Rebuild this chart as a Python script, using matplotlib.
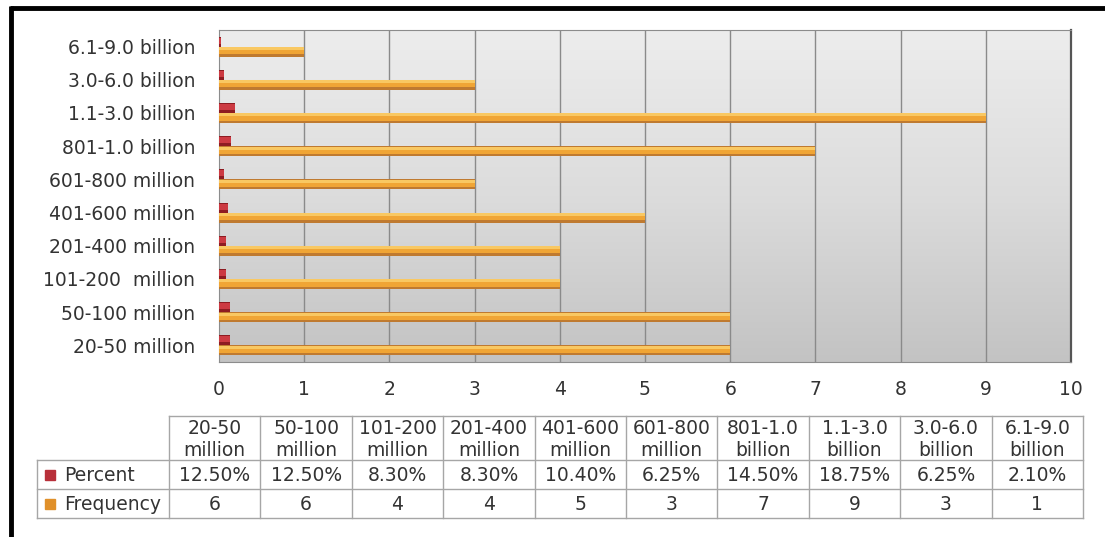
import numpy as np
import matplotlib.pyplot as plt
from matplotlib.colors import LinearSegmentedColormap
from matplotlib.patches import Rectangle

categories = ['20-50 million', '50-100 million', '101-200  million', '201-400 million',
              '401-600 million', '601-800 million', '801-1.0 billion', '1.1-3.0 billion',
              '3.0-6.0 billion', '6.1-9.0 billion']
table_headers = ['20-50\nmillion', '50-100\nmillion', '101-200\nmillion', '201-400\nmillion',
                 '401-600\nmillion', '601-800\nmillion', '801-1.0\nbillion', '1.1-3.0\nbillion',
                 '3.0-6.0\nbillion', '6.1-9.0\nbillion']
percent = [12.5, 12.5, 8.3, 8.3, 10.4, 6.25, 14.5, 18.75, 6.25, 2.1]
frequency = [6, 6, 4, 4, 5, 3, 7, 9, 3, 1]
xticks = [0, 1, 2, 3, 4, 5, 6, 7, 8, 9, 10]


def main():
    W, H = 1105, 537
    fig = plt.figure(figsize=(W / 100, H / 100), dpi=100)
    fig.patch.set_facecolor('white')

    fs = 13.5
    txt = '#333333'

    # main axes
    x0, x1, y0, y1 = 219, 1071, 30, 362
    ax = fig.add_axes([x0 / W, 1 - y1 / H, (x1 - x0) / W, (y1 - y0) / H])
    n = len(categories)
    y = np.arange(n)
    ax.set_xlim(0, 10)
    ax.set_ylim(-0.5, n - 0.5)

    # gradient background
    grad = np.linspace(0, 1, 256).reshape(-1, 1)
    bg = LinearSegmentedColormap.from_list('bg', ['#ededed', '#dcdcdc', '#c3c3c3'])
    ax.imshow(grad, extent=[0, 10, -0.5, n - 0.5], aspect='auto', cmap=bg,
              origin='upper', zorder=0)

    for xv in xticks[1:-1]:
        ax.axvline(xv, color='#8a8a8a', lw=1.0, zorder=1)

    pct = np.array(percent) / 100.0
    freq = np.array(frequency)
    # frequency bars (orange, 3d look)
    ax.barh(y - 0.15, freq, height=0.3, color='#bf7a30', zorder=3)
    ax.barh(y - 0.12, freq, height=0.22, color='#f0a535', zorder=4)
    ax.barh(y - 0.06, freq, height=0.09, color='#f9c862', zorder=5)
    # percent bars (red)
    ax.barh(y + 0.15, pct, height=0.3, color='#8e1c22', zorder=3)
    ax.barh(y + 0.18, pct, height=0.18, color='#cc3a42', zorder=4)

    ax.set_yticks(y)
    ax.set_yticklabels(categories, fontsize=fs, color=txt)
    ax.set_xticks(xticks)
    ax.set_xticklabels([str(v) for v in xticks], fontsize=fs, color=txt)
    ax.tick_params(axis='y', length=0, pad=17)
    ax.tick_params(axis='x', length=0, pad=13)
    for s in ['top', 'left', 'bottom']:
        ax.spines[s].set_color('#8c8c8c')
    ax.spines['right'].set_color('#555555')
    ax.spines['right'].set_linewidth(1.6)

    # overlay for table and frame, in pixel coords
    ov = fig.add_axes([0, 0, 1, 1])
    ov.set_xlim(0, W)
    ov.set_ylim(H, 0)
    ov.axis('off')
    ov.patch.set_alpha(0)

    # frame
    ov.plot([10, W], [8, 8], color='black', lw=3.5, solid_capstyle='butt')
    ov.plot([10.5, 10.5], [6, H], color='black', lw=3.5, solid_capstyle='butt')

    # data table
    lc = '#a6a6a6'
    cx0, cw = 169, 91.4
    rx0 = 37
    rows = [416, 460, 489, 518]
    cx_end = cx0 + cw * n
    ov.plot([cx0, cx_end], [rows[0], rows[0]], color=lc, lw=1)
    for r in rows[1:]:
        ov.plot([rx0, cx_end], [r, r], color=lc, lw=1)
    ov.plot([rx0, rx0], [rows[1], rows[3]], color=lc, lw=1)
    for i in range(n + 1):
        xx = cx0 + cw * i
        ov.plot([xx, xx], [rows[0], rows[3]], color=lc, lw=1)

    for i in range(n):
        cx = cx0 + cw * (i + 0.5)
        ov.text(cx, (rows[0] + rows[1]) / 2 + 1, table_headers[i], ha='center', va='center',
                fontsize=fs, color=txt, linespacing=1.2)
        ov.text(cx, (rows[1] + rows[2]) / 2 + 1, f'{percent[i]:.2f}%', ha='center',
                va='center', fontsize=fs, color=txt)
        ov.text(cx, (rows[2] + rows[3]) / 2 + 1, str(frequency[i]), ha='center',
                va='center', fontsize=fs, color=txt)

    # legend keys in table
    for r, name, col in [(1, 'Percent', '#b8303a'), (2, 'Frequency', '#e0902a')]:
        cy = (rows[r] + rows[r + 1]) / 2
        ov.add_patch(Rectangle((45, cy - 4.5), 10, 10, color=col))
        ov.text(64, cy + 1, name, ha='left', va='center', fontsize=fs, color=txt)

    fig.savefig('out.png', dpi=100)


if __name__ == '__main__':
    main()
